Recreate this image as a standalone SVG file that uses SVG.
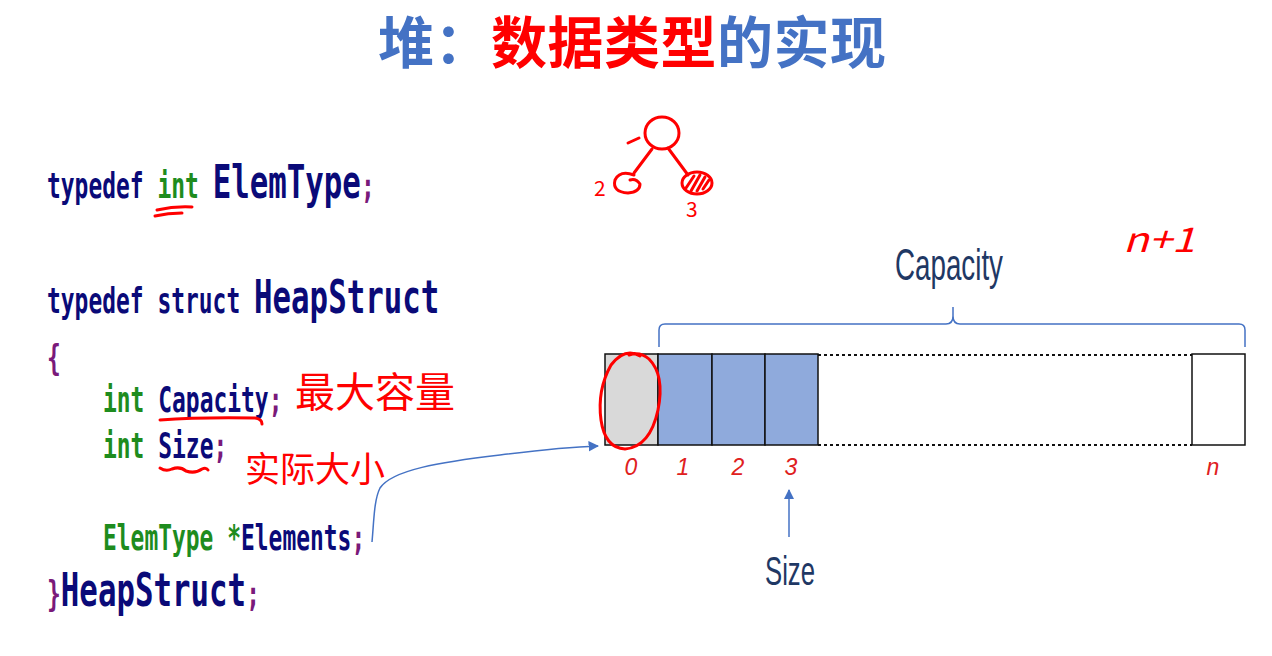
<svg xmlns="http://www.w3.org/2000/svg" width="1272" height="656" viewBox="0 0 1272 656">
<style>
.title{font-family:"Noto Sans CJK SC",sans-serif;font-size:56px;font-weight:bold}
.code{font-family:"DejaVu Sans Mono",monospace;font-size:35px;font-weight:bold;fill:#0a0a78}
.big{font-size:47px}
.nv{fill:#0a0a78}.gr{fill:#1e8c1e}.pu{fill:#7a1a7a}
.hand{font-family:"Noto Sans CJK SC",sans-serif;fill:#ff0000}
.red{fill:none;stroke:#ff0000;stroke-width:3;stroke-linecap:round;stroke-linejoin:round}
.idx{font-family:"Liberation Sans",sans-serif;font-size:23px;font-style:italic;fill:#e02020;text-anchor:middle}
.lab{font-family:"Liberation Sans",sans-serif;fill:#1f3864}
.cell{stroke:#111;stroke-width:1.5}
.blue{fill:none;stroke:#4472c4;stroke-width:1.5}
</style>
<defs>
<marker id="ah" viewBox="0 0 10 10" refX="9" refY="5" markerWidth="7" markerHeight="7" orient="auto">
<path d="M0,0 L10,5 L0,10 z" fill="#4472c4"/>
</marker>
</defs>
<rect width="1272" height="656" fill="#fff"/>

<g id="title">
<text class="title" x="378" y="63" letter-spacing="0.5"><tspan fill="#4472c4">堆：</tspan><tspan fill="#ff0000">数据类型</tspan><tspan fill="#4472c4">的实现</tspan></text>
</g>

<g id="code" transform="scale(0.655,1)">
<text class="code" x="71.8" y="198">typedef <tspan class="gr">int</tspan> <tspan class="big">ElemType</tspan><tspan class="pu">;</tspan></text>
<text class="code" x="71.8" y="313">typedef struct <tspan class="big">HeapStruct</tspan></text>
<text class="code pu" x="71.8" y="370">{</text>
<text class="code" x="157.3" y="412"><tspan class="gr">int</tspan> Capacity<tspan class="pu">;</tspan></text>
<text class="code" x="157.3" y="458"><tspan class="gr">int</tspan> Size<tspan class="pu">;</tspan></text>
<text class="code" x="157.3" y="550"><tspan class="gr">ElemType *</tspan>Elements<tspan class="pu">;</tspan></text>
<text class="code" x="71.8" y="606"><tspan class="pu">}</tspan><tspan class="big">HeapStruct</tspan><tspan class="pu">;</tspan></text>
</g>

<g id="annotations">
<path class="red" d="M157,210 Q175,206 192,207"/>
<path class="red" d="M155,216 Q168,213 182,213"/>
<path class="red" d="M160,420 Q200,417 255,418 Q262,419 262,424"/>
<path class="red" d="M160,468 Q166,472 172,469 Q180,466 186,471 Q195,474 202,469 Q206,467 208,470"/>
<text class="hand" x="295" y="407" font-size="41" textLength="160" lengthAdjust="spacingAndGlyphs">最大容量</text>
<text class="hand" x="245" y="482" font-size="35" textLength="140" lengthAdjust="spacingAndGlyphs">实际大小</text>
<text class="hand" x="1123" y="252" font-size="34" font-style="italic" textLength="72" lengthAdjust="spacingAndGlyphs">n+1</text>
</g>

<g id="tree">
<ellipse class="red" cx="662" cy="133" rx="17" ry="16"/>
<path class="red" d="M628,143 L639,138"/>
<path class="red" d="M652,149 L634,173"/>
<path class="red" d="M668,148 L688,175"/>
<path class="red" d="M634,175 Q620,170 615,180 Q612,192 628,193 Q640,192 640,184 Q636,178 630,180"/>
<ellipse class="red" cx="697" cy="183" rx="15" ry="11"/>
<path class="red" d="M686,188 L694,176 M691,191 L700,175 M697,191 L705,177 M703,189 L709,180" stroke-width="2.5"/>
<text class="hand" x="594" y="196" font-size="21">2</text>
<text class="hand" x="686" y="217" font-size="21">3</text>
</g>

<g id="brace">
<path class="blue" d="M659,347 L659,330 Q659,324 665,324 L946,324 Q953,324 953,316 L953,307 M953,316 Q953,324 960,324 L1239,324 Q1245,324 1245,330 L1245,347" stroke="#7f9fd6"/>
<text class="lab" x="895" y="280" font-size="44" textLength="108" lengthAdjust="spacingAndGlyphs">Capacity</text>
</g>

<g id="array">
<rect class="cell" x="605" y="354" width="53" height="91" fill="#d9d9d9"/>
<rect class="cell" x="658" y="354" width="54" height="91" fill="#8faadc"/>
<rect class="cell" x="712" y="354" width="53" height="91" fill="#8faadc"/>
<rect class="cell" x="765" y="354" width="53" height="91" fill="#8faadc"/>
<line x1="818" y1="355" x2="1192" y2="355" stroke="#111" stroke-width="2" stroke-dasharray="3,3"/>
<line x1="818" y1="445" x2="1192" y2="445" stroke="#111" stroke-width="2" stroke-dasharray="3,3"/>
<rect class="cell" x="1192" y="354" width="53" height="91" fill="#fff"/>
<text class="idx" x="631" y="475">0</text>
<text class="idx" x="683" y="475">1</text>
<text class="idx" x="738" y="475">2</text>
<text class="idx" x="791" y="475">3</text>
<text class="idx" x="1213" y="475">n</text>
<path class="red" d="M640,356 Q625,347 611,365 Q597,390 601,420 Q605,448 625,449 Q650,447 658,410 Q665,375 649,359 Q640,351 629,355"/>
</g>

<g id="size">
<text class="lab" x="765" y="585" font-size="40" textLength="50" lengthAdjust="spacingAndGlyphs">Size</text>
</g>

<g id="connectors">
<line class="blue" x1="789" y1="537" x2="789" y2="490" marker-end="url(#ah)"/>
<path class="blue" d="M372,542 C374,520 374,500 380,488 C392,470 440,462 500,455 C540,450 570,447 598,446" marker-end="url(#ah)"/>
</g>
</svg>
